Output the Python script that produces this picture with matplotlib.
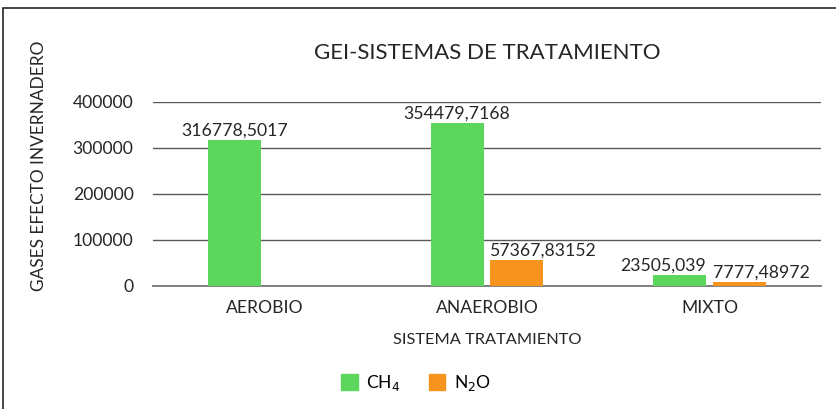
import matplotlib.pyplot as plt
import matplotlib.patches as mpatches
import numpy as np

plt.rcParams['font.family'] = ['Lato', 'DejaVu Sans']

categories = ['AEROBIO', 'ANAEROBIO', 'MIXTO']
ch4 = [316778.5017, 354479.7168, 23505.039]
n2o = [0.0, 57367.83152, 7777.48972]
ch4_labels = ['316778,5017', '354479,7168', '23505,039']
n2o_labels = [None, '57367,83152', '7777,48972']

green = '#5CD65C'
orange = '#F7941D'

W, H = 837, 409
fig = plt.figure(figsize=(W / 100, H / 100), dpi=100)
ax = fig.add_axes([153 / W, 1 - 286 / H, (821 - 153) / W, (286 - 102) / H])

x = np.arange(len(categories))
w = 0.238
g = 0.031
ax.bar(x - (w + g) / 2, ch4, w, color=green, zorder=3)
ax.bar(x + (w + g) / 2, n2o, w, color=orange, zorder=3)

ax.set_xlim(-0.5, 2.5)
ax.set_ylim(0, 400000)
ax.set_yticks([0, 100000, 200000, 300000, 400000])
ax.set_yticklabels(['0', '100000', '200000', '300000', '400000'])
ax.set_xticks(x)
ax.set_xticklabels(categories)
ax.tick_params(axis='both', length=0, labelsize=12.6, colors='#262626')
ax.tick_params(axis='y', pad=14)
ax.tick_params(axis='x', pad=10)
ax.grid(axis='y', color='#595959', linewidth=1.0, zorder=0)
for s in ['top', 'right', 'left']:
    ax.spines[s].set_visible(False)
ax.spines['bottom'].set_color('#767676')
ax.spines['bottom'].set_linewidth(1.3)

# data labels (Excel-style placement)
for i in range(len(categories)):
    xc = x[i] - (w + g) / 2
    if i == 2:
        ax.annotate(ch4_labels[i], (xc + w / 2, ch4[i]), xytext=(0, 1),
                    textcoords='offset points', ha='right', va='bottom',
                    fontsize=12.7, color='#262626')
    else:
        ax.annotate(ch4_labels[i], (xc, ch4[i]), xytext=(0, 1),
                    textcoords='offset points', ha='center', va='bottom',
                    fontsize=12.7, color='#262626')
    if n2o_labels[i]:
        xn = x[i] + (w + g) / 2
        ax.annotate(n2o_labels[i], (xn - w / 2, n2o[i]), xytext=(0, 1),
                    textcoords='offset points', ha='left', va='bottom',
                    fontsize=12.7, color='#262626')

fig.text(487 / W, 1 - 53 / H, 'GEI-SISTEMAS DE TRATAMIENTO', ha='center',
         va='center', fontsize=16, color='#262626')
fig.text(487 / W, 1 - 340 / H, 'SISTEMA TRATAMIENTO', ha='center',
         va='center', fontsize=11.8, color='#262626')
fig.text(39 / W, 1 - 166 / H, 'GASES EFECTO INVERNADERO', ha='center',
         va='center', rotation=90, fontsize=12.4, color='#262626')

handles = [mpatches.Patch(color=green, label='CH$_4$'),
           mpatches.Patch(color=orange, label='N$_2$O')]
fig.legend(handles=handles, loc='center', bbox_to_anchor=(416 / W, 1 - 383 / H),
           ncol=2, frameon=False, fontsize=12.6, handlelength=0.95,
           handleheight=0.95, handletextpad=0.5, columnspacing=1.6)

# chart border
fig.patches.append(mpatches.Rectangle((3 / W, -0.1), 1.2, 1 - 8 / H + 0.1,
                                      transform=fig.transFigure, fill=False,
                                      edgecolor='#262626', linewidth=1.2))

fig.savefig('out.png', dpi=100)
